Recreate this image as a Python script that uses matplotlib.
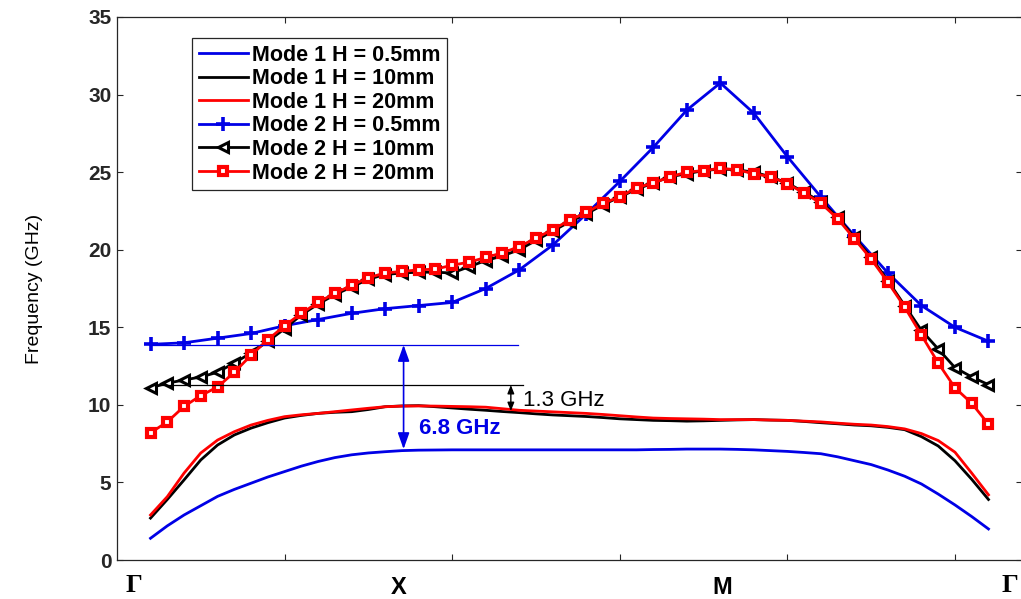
import numpy as np
import matplotlib
matplotlib.use("Agg")
import matplotlib.pyplot as plt

plt.rcParams["font.family"] = ["Liberation Sans", "DejaVu Sans"]

# k-path sample index (51 samples from Gamma -> X -> M -> Gamma)
k_fine = np.arange(51)
k_coarse = np.arange(0, 51, 2)

# Mode 1 (lines only)
mode1_h05 = [1.40, 2.2, 2.9, 3.5, 4.1, 4.55, 4.95, 5.35, 5.7, 6.05, 6.35, 6.6, 6.78,
             6.9, 6.98, 7.05, 7.08, 7.09, 7.1, 7.1, 7.1, 7.1, 7.1, 7.1, 7.1, 7.1,
             7.1, 7.1, 7.1, 7.1, 7.12, 7.13, 7.15, 7.15, 7.15, 7.13, 7.1, 7.05, 7.0,
             6.93, 6.85, 6.65, 6.4, 6.15, 5.8, 5.4, 4.9, 4.25, 3.55, 2.8, 2.0]
mode1_h10 = [2.7, 3.9, 5.16, 6.45, 7.41, 8.06, 8.5, 8.85, 9.15, 9.32, 9.45, 9.52, 9.56,
             9.7, 9.88, 9.93, 9.95, 9.88, 9.8, 9.72, 9.65, 9.57, 9.5, 9.42, 9.35, 9.3,
             9.25, 9.18, 9.1, 9.05, 9.0, 8.98, 8.95, 8.97, 9.0, 9.03, 9.05, 9.02, 9.0,
             8.93, 8.85, 8.78, 8.7, 8.65, 8.55, 8.4, 7.95, 7.35, 6.4, 5.2, 3.9]
mode1_h20 = [2.9, 4.08, 5.6, 6.9, 7.73, 8.27, 8.7, 9.0, 9.24, 9.36, 9.45, 9.56, 9.67,
             9.78, 9.88, 9.92, 9.93, 9.92, 9.9, 9.88, 9.85, 9.75, 9.65, 9.6, 9.55, 9.5,
             9.45, 9.38, 9.3, 9.22, 9.15, 9.12, 9.1, 9.08, 9.05, 9.05, 9.05, 9.02, 9.0,
             8.95, 8.9, 8.82, 8.75, 8.7, 8.6, 8.45, 8.15, 7.7, 6.95, 5.6, 4.2]

# Mode 2
mode2_h05 = [13.9, 14.0, 14.3, 14.6, 15.1, 15.5, 15.9, 16.2, 16.4, 16.6, 17.5, 18.7, 20.3,
             22.3, 24.4, 26.6, 29.0, 30.75, 28.8, 26.0, 23.4, 20.9, 18.5, 16.4, 15.0, 14.1]
mode2_h10 = [11.1, 11.4, 11.6, 11.8, 12.1, 12.7, 13.35, 14.1, 14.9, 15.8, 16.5, 17.1, 17.6,
             18.1, 18.4, 18.5, 18.55, 18.55, 18.5, 18.9, 19.3, 19.6, 20.0, 20.6, 21.2,
             21.8, 22.3, 22.9, 23.4, 23.9, 24.3, 24.7, 24.9, 25.1, 25.2, 25.15, 25.0,
             24.7, 24.3, 23.7, 23.1, 22.1, 20.8, 19.5, 18.0, 16.4, 14.8, 13.6, 12.4,
             11.8, 11.3]
mode2_h20 = [8.2, 8.9, 9.9, 10.6, 11.15, 12.1, 13.2, 14.2, 15.1, 15.9, 16.6, 17.2, 17.7,
             18.2, 18.5, 18.6, 18.7, 18.75, 19.0, 19.2, 19.5, 19.8, 20.2, 20.75, 21.3,
             21.9, 22.4, 23.0, 23.4, 24.0, 24.3, 24.7, 25.0, 25.1, 25.25, 25.15, 24.9,
             24.7, 24.25, 23.65, 23.0, 22.0, 20.7, 19.4, 17.9, 16.3, 14.5, 12.7, 11.1,
             10.1, 8.75]

point_labels = ["\u0393", "X", "M", "\u0393"]
point_pos = [-1.0, 14.8, 34.1, 51.3]

blue = "#0000e6"
red = "#ff0000"

fig = plt.figure(figsize=(10.21, 5.99), dpi=100)
ax = fig.add_axes([117 / 1021, 39 / 599, 905 / 1021, 543 / 599])

ax.plot(k_fine, mode1_h05, color=blue, lw=2, label="Mode 1 H = 0.5mm")
ax.plot(k_fine, mode1_h10, color="black", lw=2, label="Mode 1 H = 10mm")
ax.plot(k_fine, mode1_h20, color=red, lw=2, label="Mode 1 H = 20mm")
ax.plot(k_coarse, mode2_h05, color=blue, lw=2, marker="+", ms=10, mew=2.6,
        label="Mode 2 H = 0.5mm")
ax.plot(k_fine, mode2_h10, color="black", lw=2, marker="<", ms=6.5, mew=2.2,
        mfc="white", label="Mode 2 H = 10mm")
ax.plot(k_fine, mode2_h20, color=red, lw=2, marker="s", ms=6, mew=3,
        mfc="white", label="Mode 2 H = 20mm")

# band-gap annotations
ax.plot([0, 21.9], [13.86, 13.86], color=blue, lw=0.9)
ax.plot([0, 22.2], [11.28, 11.28], color="black", lw=0.9)
ax.annotate("", xy=(15.1, 7.15), xytext=(15.1, 13.86),
            arrowprops=dict(arrowstyle="<|-|>,head_length=0.7,head_width=0.25",
                            color=blue, lw=1.2, mutation_scale=14,
                            shrinkA=0, shrinkB=0))
ax.annotate("", xy=(21.5, 9.6), xytext=(21.5, 11.28),
            arrowprops=dict(arrowstyle="<|-|>,head_length=0.5,head_width=0.2",
                            color="black", lw=1.0, mutation_scale=10,
                            shrinkA=0, shrinkB=0))
ax.text(16.0, 8.5, "6.8 GHz", color=blue, fontsize=16, fontweight="bold",
        va="center", ha="left")
ax.text(22.2, 10.3, "1.3 GHz", color="black", fontsize=16, va="center", ha="left")

ax.set_xlim(-2, 52)
ax.set_ylim(0, 35)
ax.set_xticks([8, 18, 28, 38, 48])
ax.set_xticklabels([])
ax.set_yticks(np.arange(0, 36, 5))
ax.tick_params(direction="in", length=4, width=0.8, top=True, right=True,
               colors="#262626", labelsize=15, pad=4)
for lab in ax.get_yticklabels():
    lab.set_fontweight("bold")
for sp in ax.spines.values():
    sp.set_color("#262626")
    sp.set_linewidth(0.9)

for name, pos in zip(point_labels, point_pos):
    if name == "\u0393":
        ax.text(pos, -0.047, name, transform=ax.get_xaxis_transform(), ha="center",
                va="center", fontsize=19, fontweight="bold",
                family=["Liberation Serif", "DejaVu Serif"])
    else:
        ax.text(pos, -0.05, name, transform=ax.get_xaxis_transform(), ha="center",
                va="center", fontsize=17, fontweight="bold")

ax.set_ylabel("Frequency (GHz)", fontsize=14,
              family=["Liberation Sans Narrow", "Liberation Sans", "DejaVu Sans"])
ax.yaxis.set_label_coords(-0.082, 0.5)

leg = ax.legend(loc="upper left", bbox_to_anchor=(0.083, 0.961), borderaxespad=0,
                fancybox=False, edgecolor="#262626", framealpha=1,
                prop=dict(weight="bold", size=15.5), handlelength=2.3,
                handletextpad=0.2, labelspacing=0.12, borderpad=0.3)
leg.get_frame().set_linewidth(0.9)

fig.savefig("out.png", dpi=100)
